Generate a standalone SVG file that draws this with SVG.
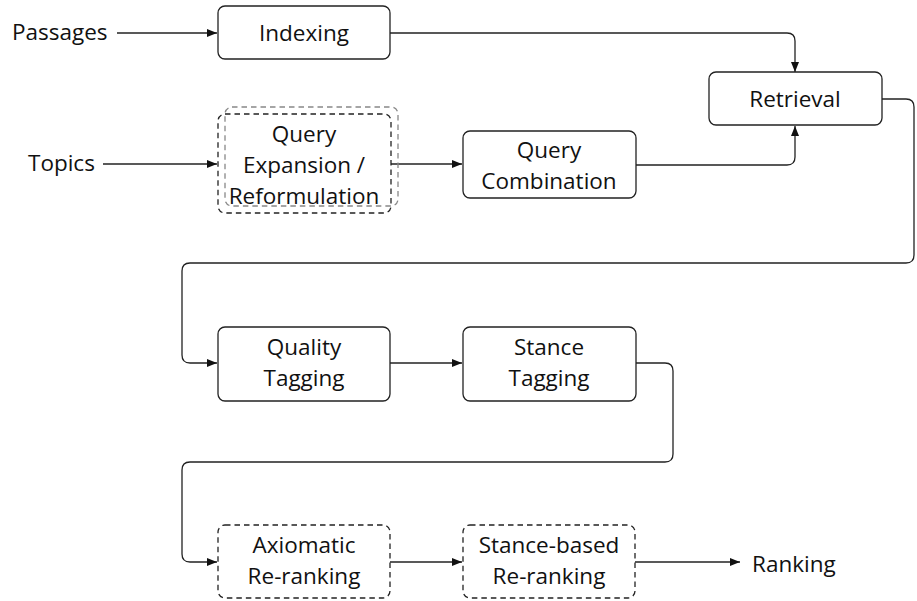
<svg xmlns="http://www.w3.org/2000/svg" width="917" height="601" viewBox="0 0 917 601">
<style>
text{font-family:"Open Sans","Lato","DejaVu Sans",sans-serif;font-size:22.5px;fill:#111;}
.c{text-anchor:middle;}
.box{fill:#fff;stroke:#222;stroke-width:1.3;}
.dash{fill:none;stroke:#222;stroke-width:1.3;stroke-dasharray:5.5 4;}
.gray{fill:none;stroke:#888;stroke-width:1.3;stroke-dasharray:5.5 4;}
.edge{fill:none;stroke:#222;stroke-width:1.3;marker-end:url(#ah);}
</style>
<defs>
<marker id="ah" viewBox="0 0 10 8" refX="10" refY="4" markerWidth="10" markerHeight="8" markerUnits="userSpaceOnUse" orient="auto">
<path d="M0,0 L10,4 L0,8 Z" fill="#111"/>
</marker>
</defs>
<rect width="917" height="601" fill="#fff"/>
<g id="connectors">
<path class="edge" d="M117,33 H217"/>
<path class="edge" d="M103,164 H217"/>
<path class="edge" d="M391,164 H462"/>
<path class="edge" d="M636,165 H787 Q795,165 795,157 V126"/>
<path class="edge" d="M390,33 H787 Q795,33 795,41 V72"/>
<path class="edge" d="M882,99 H906 Q914,99 914,107 V255 Q914,263 906,263 H190 Q182,263 182,271 V355 Q182,363 190,363 H217"/>
<path class="edge" d="M390,363 H462"/>
<path class="edge" d="M636,363 H665 Q673,363 673,371 V454 Q673,462 665,462 H190 Q182,462 182,470 V554 Q182,562 190,562 H217"/>
<path class="edge" d="M390,562 H462"/>
<path class="edge" d="M635,562 H740"/>
</g>
<g id="passages"><text x="12" y="40">Passages</text></g>
<g id="topics"><text x="28" y="171">Topics</text></g>
<g id="indexing"><rect class="box" x="218" y="6" width="172" height="53" rx="7"/><text class="c" x="304" y="41">Indexing</text></g>
<g id="query-expansion">
<rect class="gray" x="225" y="107" width="173" height="99" rx="7"/>
<rect class="dash" x="218" y="114" width="173" height="99" rx="7"/>
<text class="c" x="304" y="142">Query</text>
<text class="c" x="304" y="173">Expansion /</text>
<text class="c" x="304" y="204">Reformulation</text>
</g>
<g id="query-combination"><rect class="box" x="463" y="131" width="173" height="67" rx="7"/><text class="c" x="549" y="158">Query</text><text class="c" x="549" y="189">Combination</text></g>
<g id="retrieval"><rect class="box" x="709" y="72" width="173" height="53" rx="7"/><text class="c" x="795" y="107">Retrieval</text></g>
<g id="quality-tagging"><rect class="box" x="218" y="327" width="172" height="74" rx="7"/><text class="c" x="304" y="355">Quality</text><text class="c" x="304" y="386">Tagging</text></g>
<g id="stance-tagging"><rect class="box" x="463" y="327" width="173" height="74" rx="7"/><text class="c" x="549" y="355">Stance</text><text class="c" x="549" y="386">Tagging</text></g>
<g id="axiomatic"><rect class="dash" x="218" y="525" width="172" height="73" rx="7"/><text class="c" x="304" y="553">Axiomatic</text><text class="c" x="304" y="584">Re-ranking</text></g>
<g id="stance-based"><rect class="dash" x="463" y="525" width="172" height="73" rx="7"/><text class="c" x="549" y="553">Stance-based</text><text class="c" x="549" y="584">Re-ranking</text></g>
<g id="ranking"><text x="752" y="572">Ranking</text></g>
</svg>
